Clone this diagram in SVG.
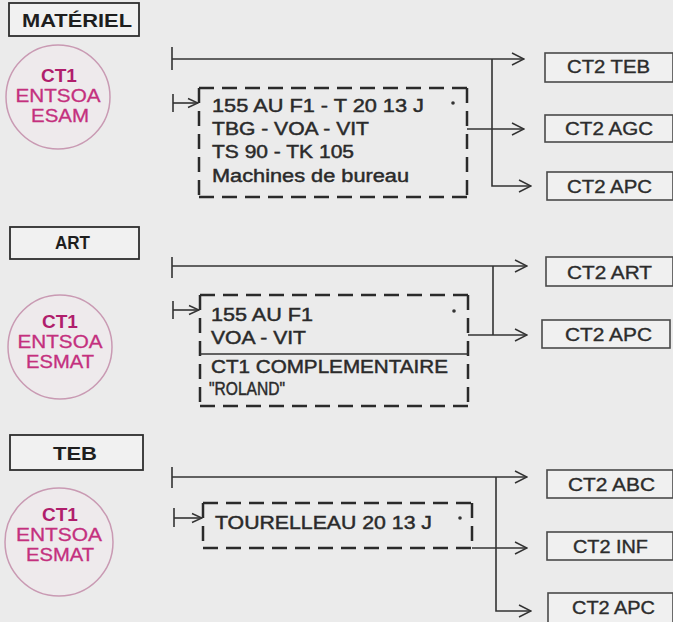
<svg xmlns="http://www.w3.org/2000/svg" width="673" height="622" viewBox="0 0 673 622">
<defs>
<style>
.bg{fill:#ebebeb}
.ln{fill:none;stroke:#333;stroke-width:1.6}
.dash{fill:none;stroke:#2a2a2a;stroke-width:2.5;stroke-dasharray:15 8}
.title{fill:#f1f1f1;stroke:#2e2e2e;stroke-width:1.8}
.ct2{fill:#f0f0f0;stroke:#4a4a4a;stroke-width:1.6}
.circ{fill:#eeeaec;stroke:#c99ab3;stroke-width:1.5}
.t{font-family:"Liberation Sans",Arial,sans-serif;fill:#2a2a2a;stroke:#2a2a2a;stroke-width:0.45;font-size:18px}
.tb{font-family:"Liberation Sans",Arial,sans-serif;fill:#1e1e1e;font-size:19px;font-weight:bold}
.m{font-family:"Liberation Sans",Arial,sans-serif;fill:#c4307e;stroke:#c4307e;stroke-width:0.3;font-size:18px;text-anchor:middle}
.mb{font-family:"Liberation Sans",Arial,sans-serif;fill:#b01e6c;font-size:19px;font-weight:bold;text-anchor:middle}
.c2{font-family:"Liberation Sans",Arial,sans-serif;fill:#2c2c2c;stroke:#2c2c2c;stroke-width:0.35;font-size:17.5px}
.dot{fill:#333}
</style>
<marker id="arr" viewBox="0 0 14 14" markerWidth="14" markerHeight="14" refX="13" refY="7" orient="auto" markerUnits="userSpaceOnUse">
<path d="M1,1 L13,7 L1,13" fill="none" stroke="#333" stroke-width="1.5"/>
</marker>
<marker id="arrs" viewBox="0 0 12 12" markerWidth="12" markerHeight="12" refX="11" refY="6" orient="auto" markerUnits="userSpaceOnUse">
<path d="M1,1.5 L11,6 L1,10.5" fill="none" stroke="#333" stroke-width="1.5"/>
</marker>
</defs>
<rect class="bg" x="0" y="0" width="673" height="622"/>

<!-- Section 1: MATÉRIEL -->
<g id="title-materiel">
<rect class="title" x="9" y="3" width="130" height="33"/>
<text class="tb" x="22" y="27" textLength="110" lengthAdjust="spacingAndGlyphs">MATÉRIEL</text>
</g>
<g id="ct1-esam">
<circle class="circ" cx="58" cy="97" r="52"/>
<text class="mb" x="59" y="82">CT1</text>
<text class="m" x="58" y="102" textLength="85" lengthAdjust="spacingAndGlyphs">ENTSOA</text>
<text class="m" x="60" y="122" textLength="58" lengthAdjust="spacingAndGlyphs">ESAM</text>
</g>
<g id="box-materiel">
<path class="dash" d="M199,88 H467"/>
<path class="dash" d="M199,88 V197"/>
<path class="dash" d="M467,88 V197"/>
<path class="dash" d="M199,197 H467"/>
<text class="t" x="212" y="112" textLength="212" lengthAdjust="spacingAndGlyphs">155 AU F1 - T 20 13 J</text>
<text class="t" x="212" y="135" textLength="157" lengthAdjust="spacingAndGlyphs">TBG - VOA - VIT</text>
<text class="t" x="212" y="158" textLength="142" lengthAdjust="spacingAndGlyphs">TS 90 - TK 105</text>
<text class="t" x="212" y="182" textLength="197" lengthAdjust="spacingAndGlyphs">Machines de bureau</text>
<circle class="dot" cx="453" cy="103" r="1.8"/>
</g>
<g id="ct2-teb-1">
<rect class="ct2" x="545" y="53" width="128" height="29"/>
<text class="c2" x="567" y="73" textLength="83" lengthAdjust="spacingAndGlyphs">CT2 TEB</text>
</g>
<g id="ct2-agc-1">
<rect class="ct2" x="545" y="115" width="128" height="27"/>
<text class="c2" x="565" y="135" textLength="88" lengthAdjust="spacingAndGlyphs">CT2 AGC</text>
</g>
<g id="ct2-apc-1">
<rect class="ct2" x="547" y="172" width="126" height="28"/>
<text class="c2" x="567" y="193" textLength="85" lengthAdjust="spacingAndGlyphs">CT2 APC</text>
</g>

<!-- Section 2: ART -->
<g id="title-art">
<rect class="title" x="10" y="227" width="129" height="32"/>
<text class="tb" x="55" y="249" font-size="18" textLength="35" lengthAdjust="spacingAndGlyphs">ART</text>
</g>
<g id="ct1-esmat-2">
<circle class="circ" cx="60" cy="347" r="52"/>
<text class="mb" x="60" y="328">CT1</text>
<text class="m" x="60" y="348" textLength="85" lengthAdjust="spacingAndGlyphs">ENTSOA</text>
<text class="m" x="60" y="368" textLength="68" lengthAdjust="spacingAndGlyphs">ESMAT</text>
</g>
<g id="box-art">
<path class="dash" d="M200,295 H468"/>
<path class="dash" d="M200,295 V406"/>
<path class="dash" d="M468,295 V406"/>
<path class="dash" d="M200,406 H468"/>
<path class="ln" d="M200,354 H468"/>
<text class="t" x="211" y="321" textLength="102" lengthAdjust="spacingAndGlyphs">155 AU F1</text>
<text class="t" x="211" y="344" textLength="95" lengthAdjust="spacingAndGlyphs">VOA - VIT</text>
<text class="t" x="211" y="373" textLength="237" lengthAdjust="spacingAndGlyphs">CT1 COMPLEMENTAIRE</text>
<text class="t" x="209" y="395" textLength="76" lengthAdjust="spacingAndGlyphs">"ROLAND"</text>
<circle class="dot" cx="454" cy="311" r="1.8"/>
</g>
<g id="ct2-art-2">
<rect class="ct2" x="546" y="257" width="127" height="29"/>
<text class="c2" x="567" y="279" textLength="85" lengthAdjust="spacingAndGlyphs">CT2 ART</text>
</g>
<g id="ct2-apc-2">
<rect class="ct2" x="542" y="320" width="128" height="28"/>
<text class="c2" x="565" y="341" textLength="87" lengthAdjust="spacingAndGlyphs">CT2 APC</text>
</g>

<!-- Section 3: TEB -->
<g id="title-teb">
<rect class="title" x="10" y="435" width="133" height="35"/>
<text class="tb" x="53" y="460" textLength="44" lengthAdjust="spacingAndGlyphs">TEB</text>
</g>
<g id="ct1-esmat-3">
<circle class="circ" cx="59" cy="542" r="54"/>
<text class="mb" x="60" y="521">CT1</text>
<text class="m" x="59" y="541" textLength="86" lengthAdjust="spacingAndGlyphs">ENTSOA</text>
<text class="m" x="60" y="561" textLength="68" lengthAdjust="spacingAndGlyphs">ESMAT</text>
</g>
<g id="box-teb">
<path class="dash" d="M203,503 H472"/>
<path class="dash" d="M203,503 V548"/>
<path class="dash" d="M472,503 V548"/>
<path class="dash" d="M203,548 H472"/>
<text class="t" x="215" y="529" textLength="217" lengthAdjust="spacingAndGlyphs">TOURELLEAU 20 13 J</text>
<circle class="dot" cx="460" cy="518" r="1.8"/>
</g>
<g id="ct2-abc-3">
<rect class="ct2" x="547" y="470" width="126" height="28"/>
<text class="c2" x="568" y="491" textLength="87" lengthAdjust="spacingAndGlyphs">CT2 ABC</text>
</g>
<g id="ct2-inf-3">
<rect class="ct2" x="547" y="532" width="126" height="28"/>
<text class="c2" x="573" y="553" textLength="75" lengthAdjust="spacingAndGlyphs">CT2 INF</text>
</g>
<g id="ct2-apc-3">
<rect class="ct2" x="548" y="593" width="125" height="30"/>
<text class="c2" x="572" y="614" textLength="83" lengthAdjust="spacingAndGlyphs">CT2 APC</text>
</g>

<!-- Connectors -->
<g id="connectors">
<path class="ln" d="M172,47 V70"/>
<path class="ln" d="M172,59 H524" marker-end="url(#arr)"/>
<path class="ln" d="M492,59 V186 H531" marker-end="url(#arr)"/>
<path class="ln" d="M467,129 H524" marker-end="url(#arr)"/>
<path class="ln" d="M173,94 V112"/>
<path class="ln" d="M173,103 H198" marker-end="url(#arrs)"/>

<path class="ln" d="M172,257 V278"/>
<path class="ln" d="M172,266 H527" marker-end="url(#arr)"/>
<path class="ln" d="M493,266 V335"/>
<path class="ln" d="M468,335 H527" marker-end="url(#arr)"/>
<path class="ln" d="M173,301 V319"/>
<path class="ln" d="M173,310 H199" marker-end="url(#arrs)"/>

<path class="ln" d="M172,467 V488"/>
<path class="ln" d="M172,477 H527" marker-end="url(#arr)"/>
<path class="ln" d="M496,477 V611 H531" marker-end="url(#arr)"/>
<path class="ln" d="M472,548 H527" marker-end="url(#arr)"/>
<path class="ln" d="M174,508 V527"/>
<path class="ln" d="M174,518 H202" marker-end="url(#arrs)"/>
</g>
</svg>
